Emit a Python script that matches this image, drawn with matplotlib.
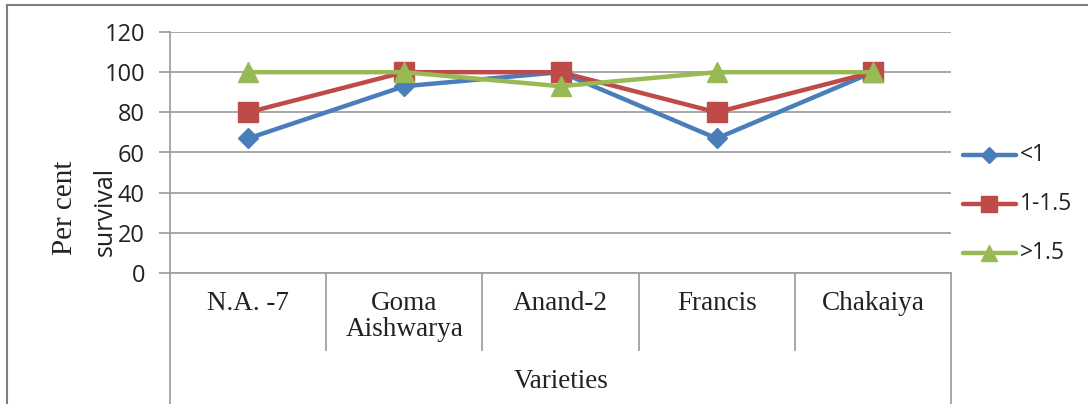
import matplotlib
matplotlib.use("Agg")
import matplotlib.pyplot as plt
from matplotlib.lines import Line2D

varieties = ["N.A. -7", "Goma\nAishwarya", "Anand-2", "Francis", "Chakaiya"]
series_names = ["<1", "1-1.5", ">1.5"]
surv_lt1 = [67, 93, 100, 67, 100]
surv_1_15 = [80, 100, 100, 80, 100]
surv_gt15 = [100, 100, 93, 100, 100]
yticks = [0, 20, 40, 60, 80, 100, 120]

colors = ["#4a7ebb", "#be4b48", "#98b954"]
markers = ["D", "s", "^"]
msizes = [10, 14, 14]

W, H = 1088, 404
fig = plt.figure(figsize=(W / 100, H / 100), dpi=100)

# plot area in pixels
x0, x1, ytop, ybot = 170, 951, 32, 273
ax = fig.add_axes([x0 / W, 1 - ybot / H, (x1 - x0) / W, (ybot - ytop) / H])

n = len(varieties)
xs = list(range(n))
for vals, c, m, ms, name in zip([surv_lt1, surv_1_15, surv_gt15], colors, markers, msizes, series_names):
    ax.plot(xs, vals, color=c, lw=3.2, marker=m, ms=ms, mec=c, mfc=c, label=name,
            solid_capstyle="round", solid_joinstyle="round", clip_on=False, zorder=3)

ax.set_xlim(-0.5, n - 0.5)
ax.set_ylim(0, 120)
ax.set_yticks(yticks)
ax.set_yticklabels([str(v) for v in yticks], family="Open Sans", fontsize=17, color="#222222")
ax.yaxis.grid(True, color="#a0a0a0", lw=1.3)
ax.set_axisbelow(True)
ax.tick_params(axis="y", length=8, width=1.3, color="#a0a0a0", pad=10)
ax.set_xticks([])
for s in ["top", "right"]:
    ax.spines[s].set_visible(False)
for s in ["left", "bottom"]:
    ax.spines[s].set_color("#a0a0a0")
    ax.spines[s].set_linewidth(1.3)

# category labels and separators below the axis (in figure pixel coords)
def fx(px):
    return px / W

def fy(py):
    return 1 - py / H

step = (x1 - x0) / n
for i, lab in enumerate(varieties):
    cx = x0 + step * (i + 0.5)
    fig.text(fx(cx), fy(291), lab, ha="center", va="top", family="Liberation Serif",
             fontsize=19.5, color="#222222", linespacing=1.05)
for i in range(n + 1):
    sx = x0 + step * i
    end = 404 if i in (0, n) else 350
    fig.add_artist(Line2D([fx(sx), fx(sx)], [fy(273), fy(end)], color="#a0a0a0", lw=1.3))

fig.text(fx(561), fy(381), "Varieties", ha="center", va="center", family="Liberation Serif",
         fontsize=19.5, color="#222222")

# y label: two lines in different faces
fig.text(fx(65), fy(208), "Per cent", ha="center", va="center", rotation=90,
         family="Liberation Serif", fontsize=21, color="#222222")
fig.text(fx(105), fy(211), "survival", ha="center", va="center", rotation=90,
         family="Open Sans", fontsize=18, color="#222222")

# legend
leg_y = [155, 204, 253]
for c, m, ms, name, ly in zip(colors, markers, msizes, series_names, leg_y):
    fig.add_artist(Line2D([fx(963), fx(1016)], [fy(ly), fy(ly)], color=c, lw=3.2,
                          solid_capstyle="round"))
    fig.add_artist(Line2D([fx(989)], [fy(ly)], marker=m, ms=ms * 0.85, color=c, mec=c))
    fig.text(fx(1020), fy(ly), name, ha="left", va="center", family="Open Sans",
             fontsize=16.5, color="#222222")

# outer border (top and left)
fig.add_artist(Line2D([fx(7), fx(1088)], [fy(5), fy(5)], color="#7f7f7f", lw=1.5))
fig.add_artist(Line2D([fx(7), fx(7)], [fy(5), fy(404)], color="#7f7f7f", lw=1.5))

fig.savefig("out.png", dpi=100)
